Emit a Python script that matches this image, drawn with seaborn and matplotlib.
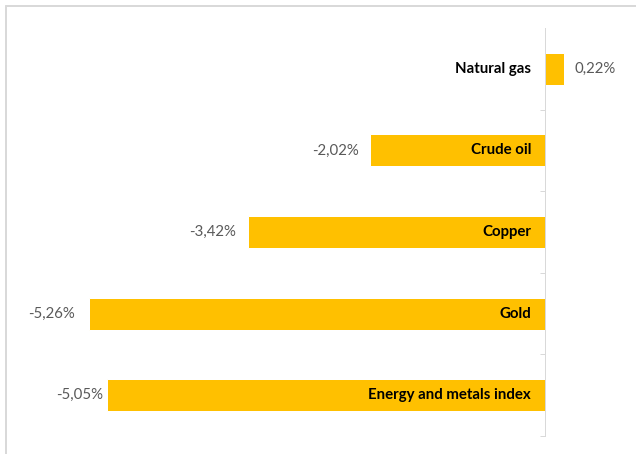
import matplotlib
matplotlib.use("Agg")
import matplotlib.pyplot as plt
import seaborn as sns
import pandas as pd
from matplotlib.lines import Line2D

categories = ["Natural gas", "Crude oil", "Copper", "Gold", "Energy and metals index"]
values = [0.22, -2.02, -3.42, -5.26, -5.05]
value_labels = ["0,22%", "-2,02%", "-3,42%", "-5,26%", "-5,05%"]
label_gaps = [10, 11, 12, 14, 4]

df = pd.DataFrame({"category": categories, "value": values})

sns.set_theme(style="white")
plt.rcParams['font.family'] = ['Lato', 'DejaVu Sans']

DPI = 72
fig = plt.figure(figsize=(636 / DPI, 454 / DPI), dpi=DPI)
W, H = 636, 454
ax = fig.add_axes([20 / W, (H - 436) / H, 600 / W, 408 / H])

sns.barplot(data=df, x="value", y="category", orient="h", color="#FFC000",
            saturation=1, width=0.39, ax=ax, order=categories)

pxper = 86.7
ax.set_xlim(-525 / pxper, 75 / pxper)
ax.set_ylim(4.5, -0.5)

for s in ["top", "right", "bottom"]:
    ax.spines[s].set_visible(False)
ax.spines["left"].set_position(("data", 0))
ax.spines["left"].set_color("#D9D9D9")
ax.spines["left"].set_linewidth(1)
ax.set_yticks([0.5, 1.5, 2.5, 3.5, 4.5])
ax.set_yticklabels([])
ax.set_xticks([])
ax.tick_params(axis="y", direction="out", length=5, color="#D9D9D9", width=1, left=True)
ax.set_xlabel("")
ax.set_ylabel("")

FS = 15
for i, (cat, v, lab, gap) in enumerate(zip(categories, values, value_labels, label_gaps)):
    ax.annotate(cat, xy=(0, i), xytext=(-14, 0), textcoords="offset points",
                ha="right", va="center", fontsize=FS, fontweight="bold", color="black")
    if v >= 0:
        ax.annotate(lab, xy=(v, i), xytext=(gap, 0), textcoords="offset points",
                    ha="left", va="center", fontsize=FS, color="#595959")
    else:
        ax.annotate(lab, xy=(v, i), xytext=(-gap, 0), textcoords="offset points",
                    ha="right", va="center", fontsize=FS, color="#595959")

# chart border (top and left visible)
fig.add_artist(Line2D([6 / W, 1], [1 - 6 / H, 1 - 6 / H], transform=fig.transFigure,
                      color="#D9D9D9", linewidth=2))
fig.add_artist(Line2D([6 / W, 6 / W], [0, 1 - 6 / H], transform=fig.transFigure,
                      color="#D9D9D9", linewidth=2))

fig.savefig("out.png", dpi=DPI)
